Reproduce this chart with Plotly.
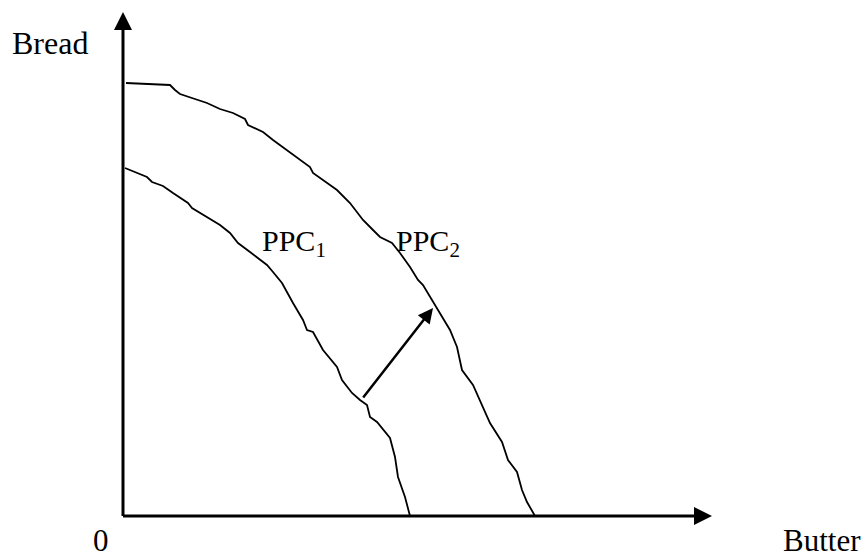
import plotly.graph_objects as go

# Courbes des possibilités de production (unités arbitraires : beurre, pain)
ppc1_butter = [0.2, 1.2, 2.4, 2.9, 4.0, 5.0, 6.5, 6.9, 8.4, 9.7, 10.7, 11.5, 12.7,
               14.4, 15.0, 15.9, 17.0, 18.0, 18.4, 19.0, 20.0, 21.4, 21.9, 22.9,
               23.7, 24.4, 24.7, 25.4, 26.7, 27.2, 27.5, 28.2, 28.7]
ppc1_bread = [34.8, 34.4, 33.9, 33.4, 33.0, 32.3, 31.3, 30.8, 29.9, 29.1, 28.3, 27.3, 26.4,
              25.1, 24.4, 23.3, 21.3, 19.6, 18.6, 18.4, 16.6, 14.9, 13.6, 12.3,
              11.6, 11.1, 9.9, 9.4, 7.8, 5.9, 3.9, 1.9, 0.0]

ppc2_butter = [0.3, 2.7, 4.7, 5.2, 5.7, 8.4, 9.7, 11.0, 12.2, 12.5, 14.0, 15.0, 16.7,
               18.0, 18.7, 19.0, 19.7, 21.4, 22.7, 24.0, 25.0, 25.7, 26.9, 27.7,
               28.7, 29.5, 30.0, 31.0, 32.7, 33.4, 33.9, 35.0, 35.7, 36.7, 37.9,
               38.5, 39.4, 39.9, 40.4, 41.2]
ppc2_bread = [43.3, 43.2, 43.1, 42.6, 42.2, 41.3, 40.7, 40.3, 39.7, 39.1, 38.4, 37.6, 36.4,
              35.4, 34.9, 34.3, 33.8, 32.6, 31.3, 29.6, 28.6, 27.9, 27.3, 26.3,
              24.9, 23.6, 23.1, 21.4, 18.6, 16.9, 14.6, 13.1, 11.6, 9.3, 7.4,
              5.6, 4.4, 2.6, 1.4, 0.0]

# Déplacement de la courbe (flèche PPC1 -> PPC2)
shift_butter = [23.9, 31.0]
shift_bread = [11.7, 20.8]

# Extrémités des axes
axis_end_butter = 58.9
axis_end_bread = 50.4

FONT = "Liberation Serif, Times New Roman, serif"
INK = "black"

fig = go.Figure()
for xs, ys, name in [(ppc1_butter, ppc1_bread, "PPC1"), (ppc2_butter, ppc2_bread, "PPC2")]:
    fig.add_trace(go.Scatter(
        x=xs, y=ys, mode="lines", name=name,
        line=dict(color=INK, width=1.8),
        hoverinfo="skip", showlegend=False,
    ))


def arrow(x0, y0, x1, y1, width):
    return dict(
        x=x1, y=y1, ax=x0, ay=y0,
        xref="x", yref="y", axref="x", ayref="y",
        showarrow=True, arrowhead=2, arrowsize=1.2, arrowwidth=width,
        arrowcolor=INK, text="",
    )


def label(text, x, y, anchor="left", size=32):
    return dict(
        x=x, y=y, xref="x", yref="y", text=text, showarrow=False,
        xanchor=anchor, yanchor="middle", borderpad=0,
        font=dict(family=FONT, size=size, color=INK),
    )


annotations = [
    arrow(-0.15, 0, axis_end_butter, 0, 3),
    arrow(0, -0.15, 0, axis_end_bread, 3),
    arrow(shift_butter[0], shift_bread[0], shift_butter[1], shift_bread[1], 2.5),
    label("Bread", -11.2, 47.3),
    label("0", -2.2, -2.4, anchor="center", size=31),
    label("Butter", 73.9, -2.4, anchor="right", size=31),
    label("PPC<sub>1</sub>", 13.8, 27.3, size=30),
    label("PPC<sub>2</sub>", 27.2, 27.3, size=30),
]

fig.update_layout(
    width=865, height=556,
    margin=dict(l=0, r=0, t=0, b=0),
    paper_bgcolor="white", plot_bgcolor="white",
    xaxis=dict(range=[-12.3, 74.2], visible=False, fixedrange=True),
    yaxis=dict(range=[-4.0, 51.6], visible=False, fixedrange=True),
    annotations=annotations,
    showlegend=False,
)

# pas de marge de page ni de barres de défilement : la figure occupe toute la fenêtre
fig.write_html(
    "out.html",
    config={"displayModeBar": False},
    post_script="document.body.style.margin='0';document.body.style.overflow='hidden';",
)
